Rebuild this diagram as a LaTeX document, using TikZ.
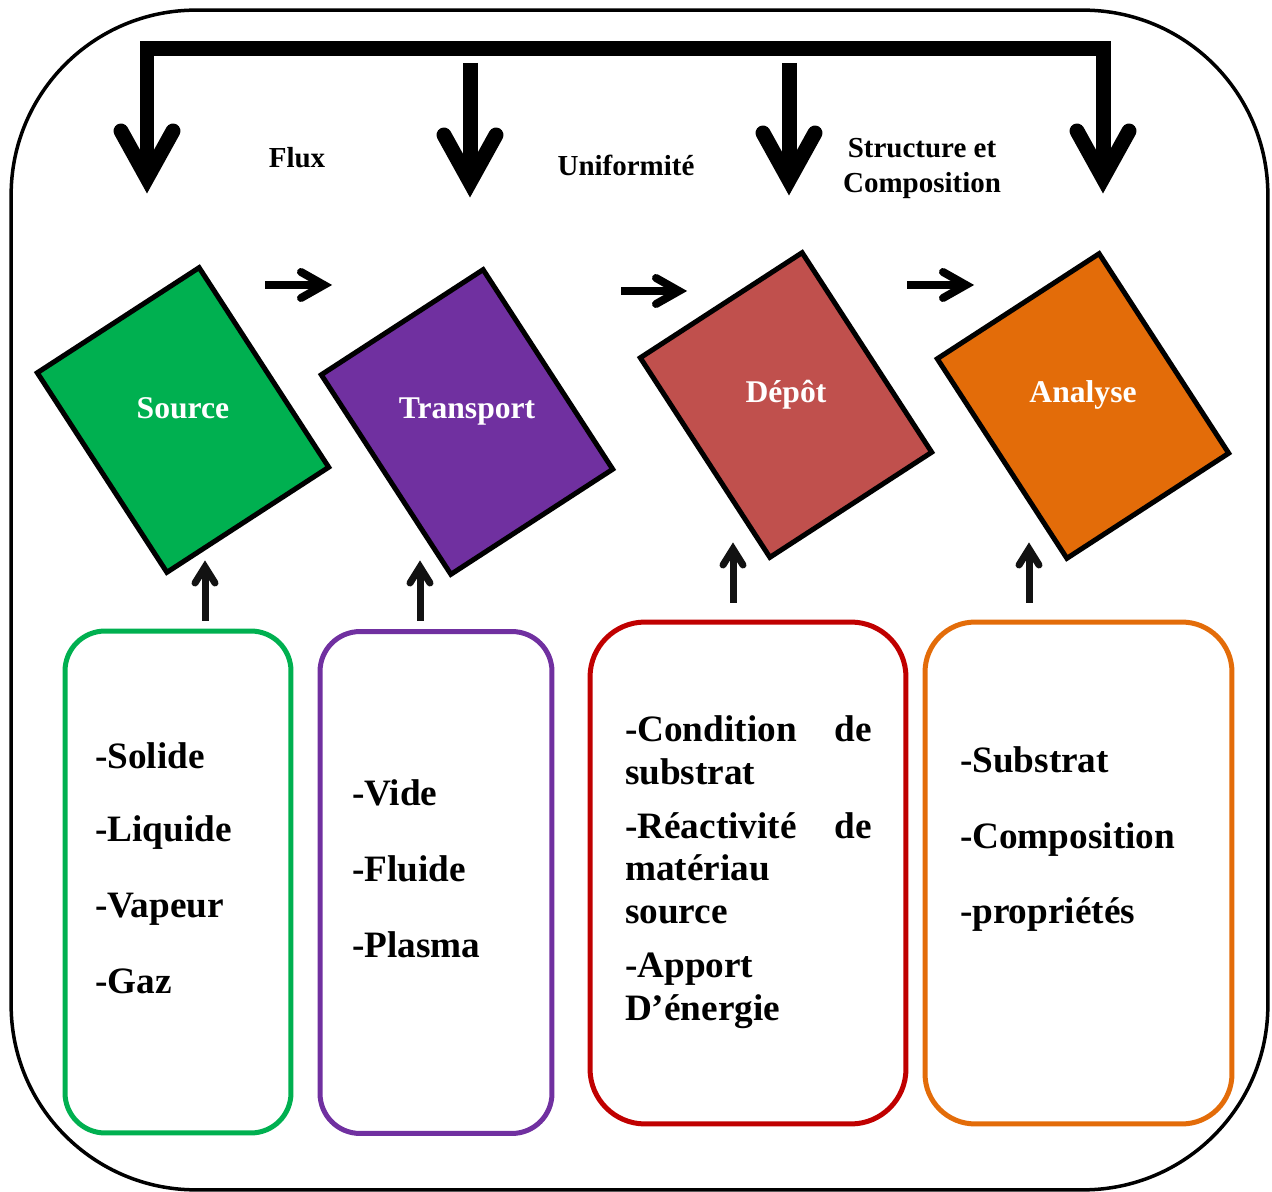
\documentclass[tikz,border=0pt]{standalone}
\usepackage{fontspec}
\setmainfont{Liberation Serif}
\definecolor{cgreen}{HTML}{00B050}
\definecolor{cpurple}{HTML}{7030A0}
\definecolor{cbrick}{HTML}{C0504D}
\definecolor{corange}{HTML}{E36C09}
\definecolor{cred}{HTML}{C00000}
\begin{document}
\begin{tikzpicture}[x=0.02cm, y=-0.02cm,
  every node/.style={inner sep=0pt, outer sep=0pt},
  frame/.style={draw, line width=0.07cm, rounded corners=3.7cm,
    minimum width=25.14cm, minimum height=23.6cm},
  stage/.style={draw, line width=0.1cm, rotate=33,
    minimum width=3.86cm, minimum height=4.76cm},
  listbox/.style={draw, line width=0.1cm, minimum height=10.04cm},
  bigline/.style={line width=0.3cm, line join=miter},
  bighead/.style={line width=0.3cm, line cap=round, line join=miter},
  midline/.style={line width=0.16cm},
  midhead/.style={line width=0.16cm, line cap=round, line join=miter},
  upline/.style={line width=0.14cm, draw=black!93},
  uphead/.style={line width=0.14cm, draw=black!93, line cap=round, line join=miter},
  lbl/.style={anchor=base, font=\fontsize{16.5}{19.5}\selectfont\bfseries},
  title/.style={anchor=base, text=white, font=\fontsize{18}{21}\selectfont\bfseries},
  item/.style={anchor=base west, font=\fontsize{21.2}{25}\selectfont\bfseries}
]
\useasboundingbox (0,0) rectangle (1272,1192);

% outer frame
\node[frame] (frame) at (639.5,600) {};

% feedback bracket with four downward arrows
\coordinate (c1) at (147,49);
\coordinate (c4) at (1103,49);
\coordinate (h1) at (147,178);
\coordinate (h4) at (1103,178);
\coordinate (s2) at (470,63);
\coordinate (h2) at (470,182);
\coordinate (s3) at (789,63);
\coordinate (h3) at (789,180);
\draw[bigline] (h1) -- (c1) -- (c4) -- (h4);
\draw[bigline] (s2) -- (h2);
\draw[bigline] (s3) -- (h3);
\foreach \h in {h1,h2,h3,h4}
  \draw[bighead] ([shift={(-26,-47)}]\h) -- (\h) -- ([shift={(26,-47)}]\h);

% labels between the stages
\node[lbl] (lflux) at (297,168) {Flux};
\node[lbl] (lunif) at (626,176) {Uniformité};
\node[lbl] (lstr1) at (922,158) {Structure et};
\node[lbl] (lstr2) at (922,193) {Composition};

% the four stages
\node[stage, fill=cgreen]  (src) at (183,420) {};
\node[stage, fill=cpurple] (trp) at (467,422) {};
\node[stage, fill=cbrick]  (dep) at (786,405) {};
\node[stage, fill=corange] (ana) at (1083,406) {};
\node[title] (tsrc) at (183,419) {Source};
\node[title] (ttrp) at (467,419) {Transport};
\node[title] (tdep) at (786,403) {Dépôt};
\node[title] (tana) at (1083,403) {Analyse};

% arrows between the stages
\coordinate (a1s) at (265,285); \coordinate (a1e) at (324,285);
\coordinate (a2s) at (621,291); \coordinate (a2e) at (679,291);
\coordinate (a3s) at (907,285); \coordinate (a3e) at (966,285);
\foreach \s/\e in {a1s/a1e,a2s/a2e,a3s/a3e}{
  \draw[midline] (\s) -- (\e);
  \draw[midhead] ([shift={(-23,-13)}]\e) -- (\e) -- ([shift={(-23,13)}]\e);
}

% parameter boxes
\node[listbox, draw=cgreen,  rounded corners=0.8cm, minimum width=4.52cm] (gb) at (178,882) {};
\node[listbox, draw=cpurple, rounded corners=0.8cm, minimum width=4.64cm] (pb) at (436,882.5) {};
\node[listbox, draw=cred,    rounded corners=1.1cm, minimum width=6.32cm] (rb) at (748,873) {};
\node[listbox, draw=corange, rounded corners=1.0cm, minimum width=6.14cm] (ob) at (1078.5,873) {};

% arrows from the boxes up to the stages
\coordinate (u1s) at (205,621);  \coordinate (u1e) at (205,567);
\coordinate (u2s) at (420,621);  \coordinate (u2e) at (420,567);
\coordinate (u3s) at (733,603);  \coordinate (u3e) at (733,549);
\coordinate (u4s) at (1029,603); \coordinate (u4e) at (1029,549);
\foreach \s/\e in {u1s/u1e,u2s/u2e,u3s/u3e,u4s/u4e}{
  \draw[upline] (\s) -- (\e);
  \draw[uphead] ([shift={(-10,16)}]\e) -- (\e) -- ([shift={(10,16)}]\e);
}

% box contents
\node[item] (g1) at (95,768) {-Solide};
\node[item] (g2) at (95,842) {-Liquide};
\node[item] (g3) at (95,917) {-Vapeur};
\node[item] (g4) at (95,993) {-Gaz};

\node[item] (p1) at (352,806) {-Vide};
\node[item] (p2) at (352,881) {-Fluide};
\node[item] (p3) at (352,957) {-Plasma};

\node[item] (r1) at (625,742) {\makebox[4.94cm][s]{-Condition\hfill de}};
\node[item] (r2) at (625,785) {substrat};
\node[item] (r3) at (625,838) {\makebox[4.94cm][s]{-Réactivité\hfill de}};
\node[item] (r4) at (625,880) {matériau};
\node[item] (r5) at (625,923) {source};
\node[item] (r6) at (625,977) {-Apport};
\node[item] (r7) at (625,1020) {D’énergie};

\node[item] (o1) at (960,773) {-Substrat};
\node[item] (o2) at (960,848) {-Composition};
\node[item] (o3) at (960,923) {-propriétés};
\end{tikzpicture}
\end{document}
